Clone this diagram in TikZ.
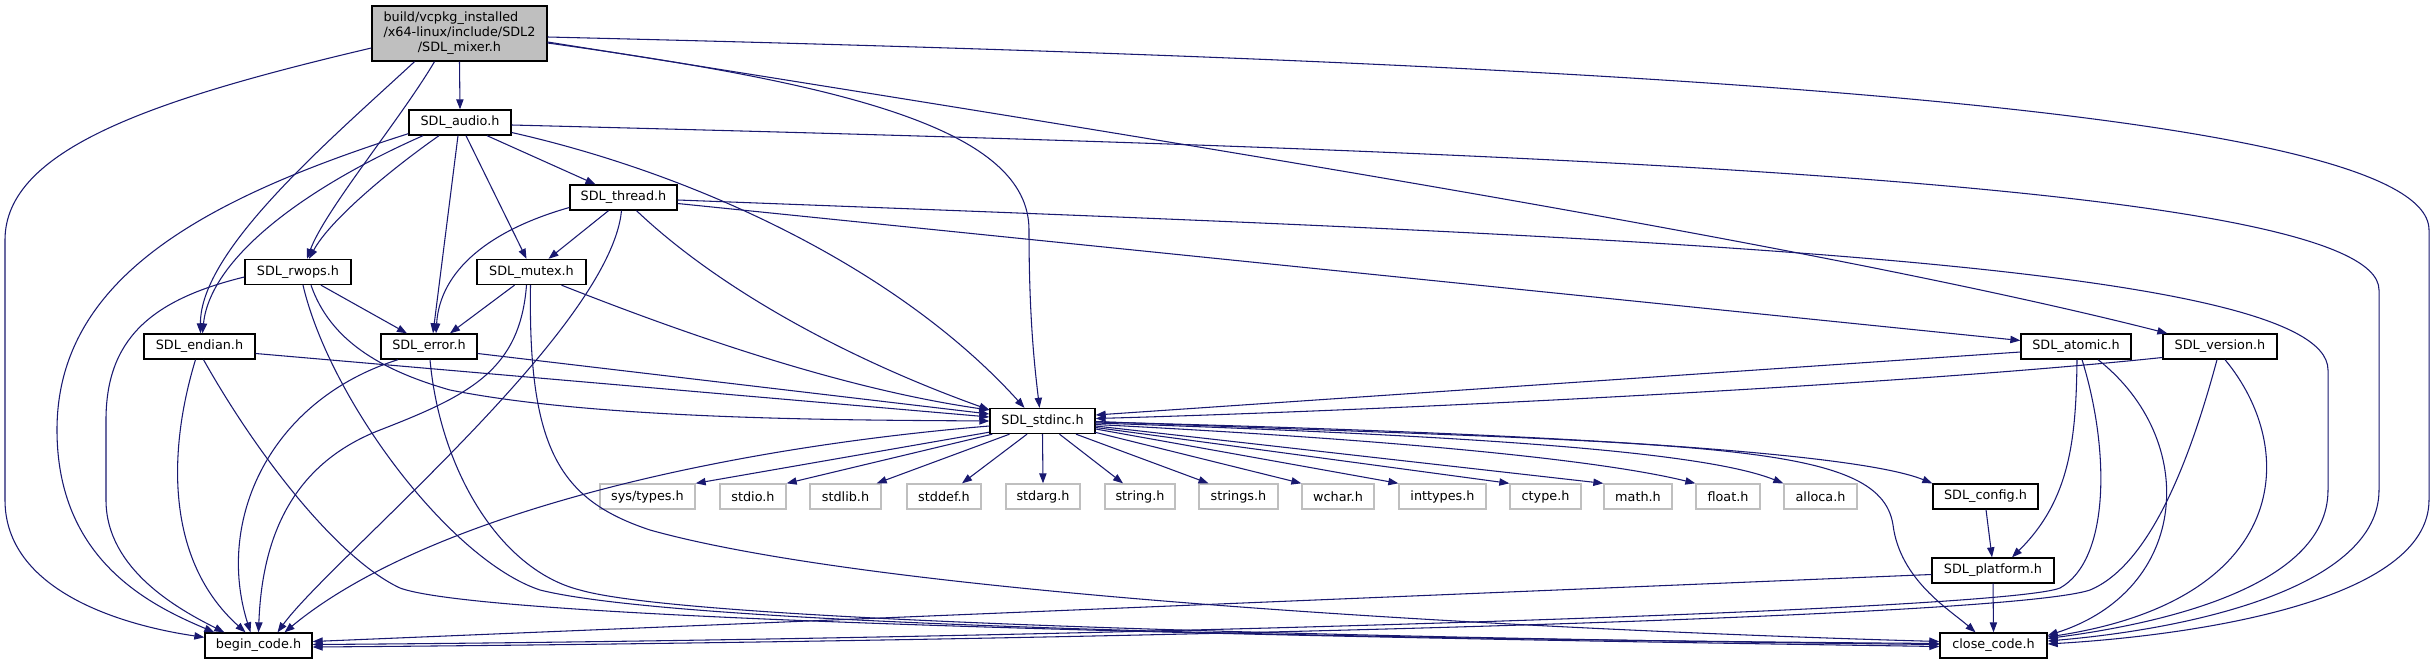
\documentclass[tikz,border=0pt]{standalone}
\usepackage{fontspec}
\setmainfont{DejaVu Sans}
\usetikzlibrary{arrows.meta,calc}
\definecolor{edgec}{HTML}{191970}
\definecolor{leafc}{HTML}{BFBFBF}
\begin{document}
\begin{tikzpicture}[x=0.75pt,y=-0.75pt,
  font=\fontsize{9.6}{11.3}\selectfont,
  box/.style={draw=black, line width=1pt, fill=white, inner sep=0pt, minimum height=18.75pt},
  leaf/.style={draw=leafc, line width=1pt, fill=white, inner sep=0pt, minimum height=18.75pt},
  e/.style={draw=edgec, line width=0.8pt, -{Triangle[length=7.5pt,width=5.5pt]}}]
\useasboundingbox (0,0) rectangle (2436,664);
% nodes
\node[box, fill=leafc, minimum width=131.25pt, minimum height=41.25pt, align=center] (mixer) at (459.5,33.5)
  {{\setbox0\hbox{/x64-linux/include/SDL2}\hbox to\wd0{build/vcpkg\_installed\hfil}}\\/x64-linux/include/SDL2\\/SDL\_mixer.h};
\node[box, minimum width=76.5pt]  (audio)  at (460,122.5)  {SDL\_audio.h};
\node[box, minimum width=80.25pt] (thread) at (623.5,197.5) {SDL\_thread.h};
\node[box, minimum width=79.5pt]  (rwops)  at (298,272)    {SDL\_rwops.h};
\node[box, minimum width=81.75pt] (mutex)  at (531.5,272)  {SDL\_mutex.h};
\node[box, minimum width=83.25pt] (endian) at (199.5,346.5) {SDL\_endian.h};
\node[box, minimum width=72pt]    (error)  at (429,346.5)  {SDL\_error.h};
\node[box, minimum width=78.75pt] (stdinc) at (1042.5,421) {SDL\_stdinc.h};
\node[box, minimum width=82.5pt]  (atomic) at (2076,346.5) {SDL\_atomic.h};
\node[box, minimum width=85.5pt]  (version) at (2220,346.5) {SDL\_version.h};
\node[leaf, minimum width=71.25pt] (systypes) at (647.5,496.5) {sys/types.h};
\node[leaf, minimum width=49.5pt]  (stdio)   at (753,496.5)   {stdio.h};
\node[leaf, minimum width=53.25pt] (stdlib)  at (845.5,496.5) {stdlib.h};
\node[leaf, minimum width=55.5pt]  (stddef)  at (944,496.5)   {stddef.h};
\node[leaf, minimum width=55.5pt]  (stdarg)  at (1043,496.5)  {stdarg.h};
\node[leaf, minimum width=52.5pt]  (string)  at (1140,496.5)  {string.h};
\node[leaf, minimum width=59.25pt] (strings) at (1238.5,496.5) {strings.h};
\node[leaf, minimum width=54pt]    (wchar)   at (1338,496.5)  {wchar.h};
\node[leaf, minimum width=65.25pt] (inttypes) at (1442.5,496.5) {inttypes.h};
\node[leaf, minimum width=53.25pt] (ctype)   at (1545.5,496.5) {ctype.h};
\node[leaf, minimum width=51pt]    (math)    at (1638,496.5)  {math.h};
\node[leaf, minimum width=48pt]    (float)   at (1728,496.5)  {float.h};
\node[leaf, minimum width=54.75pt] (alloca)  at (1820.5,496.5) {alloca.h};
\node[box, minimum width=78.75pt]  (config)  at (1985.5,496.5) {SDL\_config.h};
\node[box, minimum width=91.5pt]   (platform) at (1993,570.5) {SDL\_platform.h};
\node[box, minimum width=80.25pt]  (begin)   at (258.5,645.5) {begin\_code.h};
\node[box, minimum width=80.25pt]  (close)   at (1993.5,645.5) {close\_code.h};
% mixer
\draw[e] (mixer.south) -- (audio.north);
\draw[e] ($(mixer.south)+(-25,0)$) .. controls (400,120) and (325,210) .. ($(rwops.north)+(9,0)$);
\draw[e] ($(mixer.south)+(-45,0)$) .. controls (330,140) and (200,250) .. ($(endian.north)+(1,0)$);
\draw[e] ($(mixer.west)+(0,14.5)$) .. controls (150,100) and (5,150) .. (5,240) -- (5,500) .. controls (5,590) and (120,625) .. ($(begin.north west)+(0,5)$);
\draw[e] ($(mixer.east)+(0,9.5)$) .. controls (850,85) and (1029,130) .. (1029,230) .. controls (1029,320) and (1035,370) .. ($(stdinc.north)+(-3,0)$);
\draw[e] ($(mixer.east)+(0,8.5)$) .. controls (1100,130) and (1800,240) .. ($(version.north west)+(5,0)$);
\draw[e] ($(mixer.east)+(0,3.5)$) .. controls (1500,60) and (2429,100) .. (2429,230) -- (2429,500) .. controls (2429,600) and (2200,635) .. ($(close.east)+(0,-1.5)$);
% audio
\draw[e] ($(audio.east)+(0,2.5)$) .. controls (1500,150) and (2379,180) .. (2379,290) -- (2379,490) .. controls (2379,585) and (2200,628) .. ($(close.east)+(0,-4.5)$);
\draw[e] ($(audio.east)+(0,10)$) .. controls (700,175) and (900,270) .. ($(stdinc.north)+(-18,0)$);
\draw[e] ($(audio.south)+(27,0)$) -- ($(thread.north)+(-28,0)$);
\draw[e] ($(audio.south)+(6,0)$) -- ($(mutex.north)+(-5,0)$);
\draw[e] ($(audio.south)+(-2,0)$) -- ($(error.north)+(4,0)$);
\draw[e] ($(audio.south)+(-21,0)$) .. controls (390,170) and (330,220) .. ($(rwops.north)+(11,0)$);
\draw[e] ($(audio.south)+(-37,0)$) .. controls (300,190) and (210,260) .. ($(endian.north)+(3,0)$);
\draw[e] ($(audio.south west)+(0,-2)$) .. controls (200,200) and (57,280) .. (57,430) .. controls (57,560) and (150,605) .. ($(begin.north west)+(10,0)$);
% thread
\draw[e] ($(thread.south)+(-15,0)$) -- ($(mutex.north)+(17,0)$);
\draw[e] ($(thread.west)+(0,10)$) .. controls (490,230) and (440,270) .. ($(error.north)+(7,0)$);
\draw[e] ($(thread.south)+(-2,0)$) .. controls (610,330) and (330,560) .. ($(begin.north)+(19,0)$);
\draw[e] ($(thread.south)+(13,0)$) .. controls (720,290) and (850,360) .. ($(stdinc.north west)+(0,2)$);
\draw[e] ($(thread.east)+(0,6)$) -- ($(atomic.west)+(0,-6)$);
\draw[e] ($(thread.east)+(0,2.5)$) .. controls (1600,235) and (2328,260) .. (2328,370) -- (2328,490) .. controls (2328,590) and (2150,625) .. ($(close.east)+(0,-7)$);
% mutex
\draw[e] ($(mutex.south)+(-17,0)$) -- ($(error.north)+(21,0)$);
\draw[e] ($(mutex.south)+(-5,0)$) .. controls (520,370) and (470,395) .. (380,430) .. controls (290,465) and (262,540) .. (begin.north);
\draw[e] ($(mutex.south)+(30,0)$) .. controls (700,340) and (850,390) .. ($(stdinc.west)+(0,-11)$);
\draw[e] ($(mutex.south)+(-1,0)$) .. controls (528,450) and (560,500) .. (650,530) .. controls (900,600) and (1600,632) .. ($(close.west)+(0,-4)$);
% rwops
\draw[e] ($(rwops.south)+(23,0)$) -- ($(error.north)+(-22,0)$);
\draw[e] ($(rwops.south)+(13,0)$) .. controls (330,340) and (380,370) .. (450,390) .. controls (600,420) and (850,420) .. (stdinc.west);
\draw[e] ($(rwops.south)+(5,0)$) .. controls (330,400) and (450,560) .. (540,590) .. controls (700,630) and (1500,640) .. ($(close.west)+(0,-2)$);
\draw[e] ($(rwops.west)+(0,5)$) .. controls (150,300) and (106,340) .. (106,420) -- (106,500) .. controls (106,570) and (180,610) .. ($(begin.north west)+(20,0)$);
% endian
\draw[e] ($(endian.east)+(0,7)$) -- ($(stdinc.west)+(0,-4)$);
\draw[e] ($(endian.south)+(-4,0)$) .. controls (168,450) and (165,560) .. ($(begin.north)+(-13,0)$);
\draw[e] ($(endian.south)+(4,0)$) .. controls (260,460) and (340,560) .. (400,588) .. controls (500,625) and (1500,640) .. ($(close.west)+(0,1)$);
% error
\draw[e] ($(error.east)+(0,7)$) -- ($(stdinc.west)+(0,-7)$);
\draw[e] ($(error.south)+(-31,0)$) .. controls (270,400) and (215,520) .. ($(begin.north)+(-8,0)$);
\draw[e] ($(error.south)+(1,0)$) .. controls (440,470) and (500,570) .. (580,590) .. controls (700,625) and (1500,640) .. ($(close.west)+(0,-1)$);
% stdinc
\draw[e] ($(stdinc.west)+(0,5)$) .. controls (700,450) and (420,520) .. ($(begin.north)+(26,0)$);
\draw[e] ($(stdinc.south west)+(0,-2)$) -- (systypes.north east);
\draw[e] ($(stdinc.south west)+(3,0)$) -- (stdio.north east);
\draw[e] ($(stdinc.south)+(-33,0)$) -- ($(stdlib.north east)+(-5,0)$);
\draw[e] ($(stdinc.south)+(-15.5,0)$) -- ($(stddef.north)+(18,0)$);
\draw[e] (stdinc.south) -- (stdarg.north);
\draw[e] ($(stdinc.south)+(17,0)$) -- ($(string.north)+(-17,0)$);
\draw[e] ($(stdinc.south)+(33.5,0)$) -- ($(strings.north)+(-30,0)$);
\draw[e] ($(stdinc.south east)+(-1,-2)$) -- (wchar.north west);
\draw[e] ($(stdinc.east)+(0,8)$) -- (inttypes.north west);
\draw[e] ($(stdinc.east)+(0,6.5)$) -- (ctype.north west);
\draw[e] ($(stdinc.east)+(0,5)$) -- (math.north west);
\draw[e] ($(stdinc.east)+(0,3.5)$) .. controls (1400,440) and (1600,460) .. (float.north west);
\draw[e] ($(stdinc.east)+(0,2)$) .. controls (1450,435) and (1700,450) .. (alloca.north west);
\draw[e] ($(stdinc.east)+(0,1)$) .. controls (1500,432) and (1850,450) .. (config.north west);
\draw[e] ($(stdinc.east)+(0,0.5)$) .. controls (1700,445) and (1880,440) .. (1893,525) .. controls (1900,580) and (1950,610) .. ($(close.north)+(-18,0)$);
% atomic, version
\draw[e] ($(atomic.west)+(0,5.5)$) -- ($(stdinc.east)+(0,-6)$);
\draw[e] ($(version.west)+(0,11)$) .. controls (1900,385) and (1400,410) .. ($(stdinc.east)+(0,-2.5)$);
\draw[e] ($(atomic.south)+(1,0)$) .. controls (2076,440) and (2070,500) .. ($(platform.north)+(19,0)$);
\draw[e] ($(atomic.south)+(6,0)$) .. controls (2110,450) and (2110,560) .. (2060,588) .. controls (2000,612) and (1000,640) .. ($(begin.east)+(0,-1)$);
\draw[e] ($(atomic.south)+(22,0)$) .. controls (2200,440) and (2190,590) .. ($(close.east)+(0,-10)$);
\draw[e] ($(version.south)+(-3,0)$) .. controls (2190,460) and (2150,565) .. (2090,590) .. controls (2000,620) and (1000,642) .. ($(begin.east)+(0,1.5)$);
\draw[e] ($(version.south)+(5,0)$) .. controls (2300,450) and (2290,600) .. ($(close.east)+(0,-8.5)$);
% config, platform
\draw[e] ($(config.south)+(0.5,0)$) -- ($(platform.north)+(-1,0)$);
\draw[e] ($(platform.west)+(0,4)$) -- ($(begin.east)+(0,-4)$);
\draw[e] (platform.south) -- (close.north);
\end{tikzpicture}
\end{document}
